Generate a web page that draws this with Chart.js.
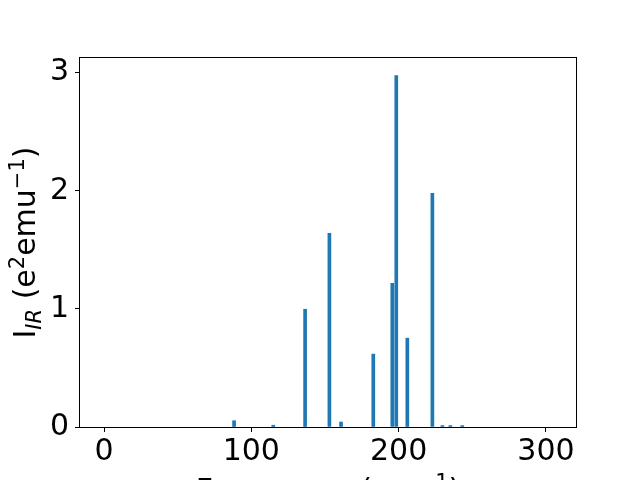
<!DOCTYPE html>
<html>
<head>
<meta charset="utf-8">
<script src="https://cdn.jsdelivr.net/npm/chart.js@4/dist/chart.umd.min.js"></script>
<style>
  html, body { margin: 0; padding: 0; background: #fff; }
  #wrap { width: 640px; height: 480px; }
</style>
</head>
<body>
<div id="wrap"><canvas id="chart" width="640" height="480"></canvas></div>
<script>
// IR spectrum: frequency (cm^-1) and intensity (e^2 emu^-1)
const freqs = [88.3, 114.9, 136.5, 153.0, 160.9, 182.8, 195.7, 198.4, 205.9, 222.9, 229.7, 235.1, 243.2];
const intensities = [0.053, 0.015, 0.997, 1.64, 0.042, 0.617, 1.217, 2.975, 0.752, 1.978, 0.012, 0.012, 0.012];
const xTicks = [0, 100, 200, 300];
const yTicks = [0, 1, 2, 3];

const FONT = 'DejaVu Sans';

// draw a label made of runs with sub/superscripts, centred on (0,0) baseline
function drawRich(ctx, runs) {
    let total = 0;
    runs.forEach(r => {
        ctx.font = (r.italic ? 'italic ' : '') + r.size + 'px "' + FONT + '"';
        r.w = ctx.measureText(r.t).width;
        total += r.w;
    });
    let x = -total / 2;
    runs.forEach(r => {
        ctx.font = (r.italic ? 'italic ' : '') + r.size + 'px "' + FONT + '"';
        ctx.fillText(r.t, x, -(r.dy || 0));
        x += r.w;
    });
}

const axisTitles = {
    id: 'axisTitles',
    afterDraw(chart) {
        const ctx = chart.ctx;
        const a = chart.chartArea;
        ctx.save();
        // axes frame
        ctx.strokeStyle = '#000';
        ctx.lineWidth = 1;
        ctx.strokeRect(Math.round(a.left) - 0.5, Math.round(a.top) - 0.5,
            Math.round(a.right - a.left) + 1, Math.round(a.bottom - a.top) + 1);

        ctx.fillStyle = '#000';
        ctx.textBaseline = 'alphabetic';
        ctx.textAlign = 'left';

        // y title
        ctx.save();
        ctx.translate(35, (a.top + a.bottom) / 2);
        ctx.rotate(-Math.PI / 2);
        drawRich(ctx, [
            { t: 'I', size: 30 },
            { t: 'IR', size: 21, italic: true, dy: -6 },
            { t: ' (e', size: 30 },
            { t: '2', size: 21, dy: 11 },
            { t: 'emu', size: 30 },
            { t: '\u22121', size: 21, dy: 11 },
            { t: ')', size: 30 }
        ]);
        ctx.restore();

        // x title (mostly below the canvas edge)
        ctx.save();
        ctx.translate((a.left + a.right) / 2, 499.5);
        drawRich(ctx, [
            { t: 'Frequency (cm', size: 30 },
            { t: '\u22121', size: 21, dy: 11 },
            { t: ')', size: 30 }
        ]);
        ctx.restore();
        ctx.restore();
    }
};

new Chart(document.getElementById('chart'), {
    type: 'bar',
    data: {
        datasets: [{
            data: freqs.map((f, i) => ({ x: f, y: intensities[i] })),
            backgroundColor: '#1f77b4',
            borderWidth: 0,
            barThickness: 3
        }]
    },
    options: {
        responsive: false,
        animation: false,
        events: [],
        layout: { padding: { top: 58, right: 64, left: 0, bottom: 0 } },
        plugins: { legend: { display: false }, tooltip: { enabled: false } },
        scales: {
            x: {
                type: 'linear',
                offset: false,
                min: -16.3,
                max: 320.4,
                afterFit(scale) { scale.height = 53; },
                afterBuildTicks(scale) { scale.ticks = xTicks.map(v => ({ value: v })); },
                ticks: {
                    color: '#000',
                    font: { family: FONT, size: 30 },
                    padding: 2,
                    maxRotation: 0
                },
                grid: { offset: false, drawOnChartArea: false, drawTicks: true, tickLength: 5, color: '#000' },
                border: { display: false }
            },
            y: {
                min: 0,
                max: 3.124,
                afterFit(scale) { scale.width = 80; },
                afterBuildTicks(scale) { scale.ticks = yTicks.map(v => ({ value: v })); },
                ticks: {
                    color: '#000',
                    font: { family: FONT, size: 30 },
                    padding: 6
                },
                grid: { drawOnChartArea: false, drawTicks: true, tickLength: 5, color: '#000' },
                border: { display: false }
            }
        }
    },
    plugins: [axisTitles]
});
</script>
</body>
</html>
